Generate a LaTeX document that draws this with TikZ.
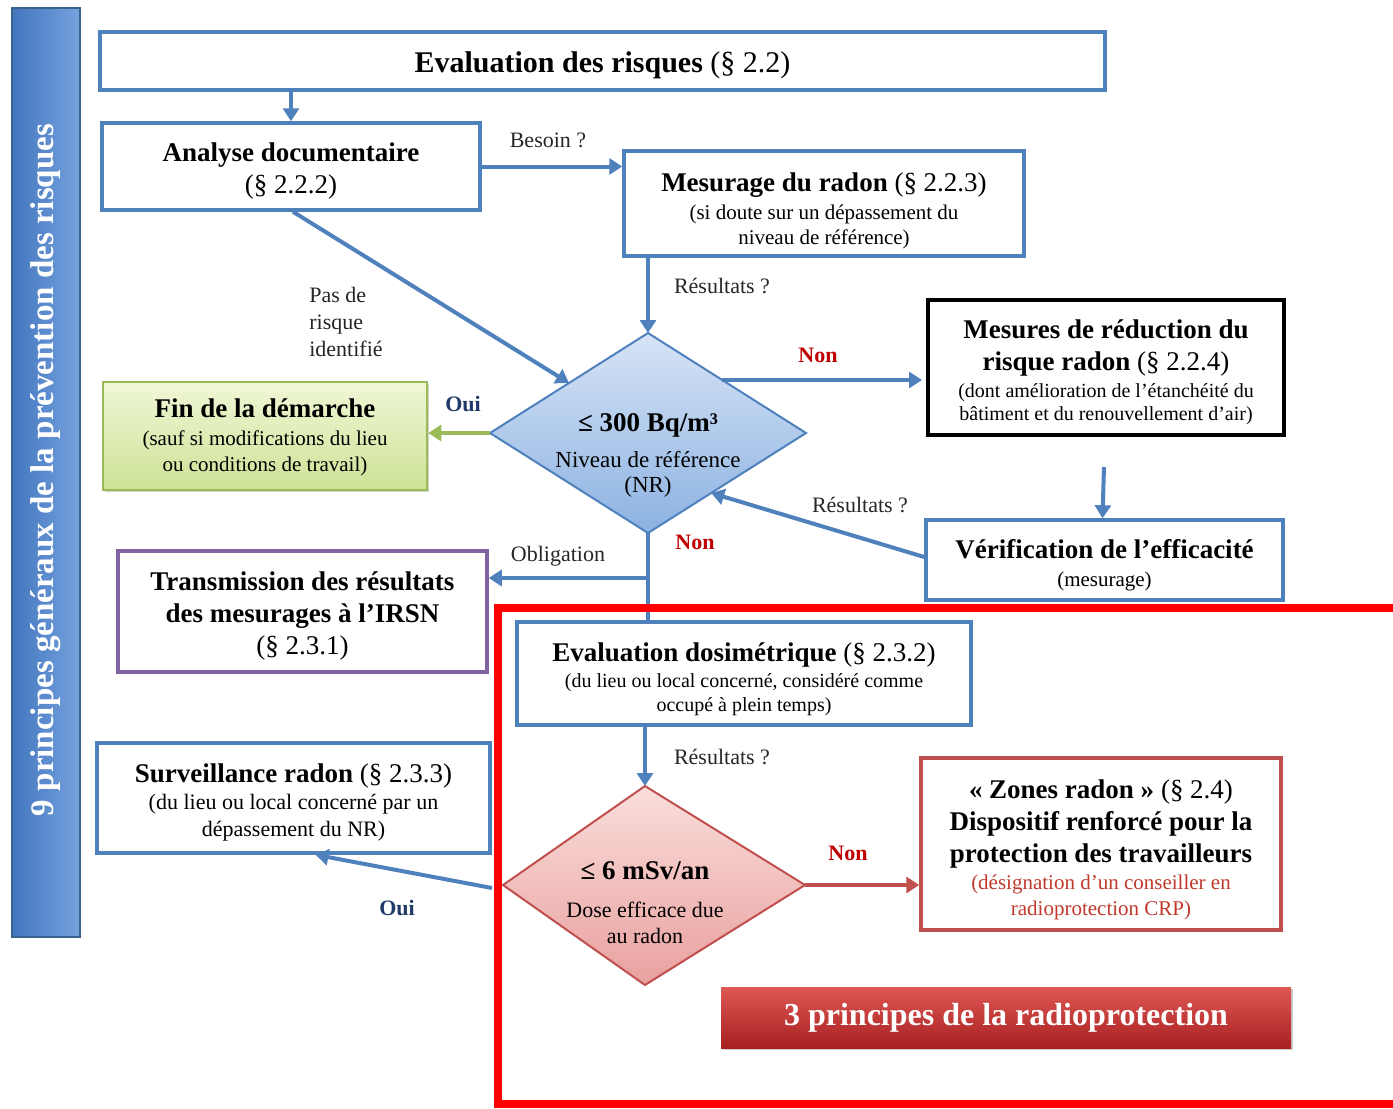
\documentclass[tikz,border=0pt]{standalone}
\usepackage{fontspec}
\setmainfont{Liberation Serif}
\usetikzlibrary{shadows,calc,arrows.meta}

\definecolor{bblue}{HTML}{4F81BD}
\definecolor{bred}{HTML}{C0504D}
\definecolor{bgreen}{HTML}{9BBB59}
\definecolor{bpurple}{HTML}{8064A2}
\definecolor{navyc}{HTML}{1F3A68}
\definecolor{lblred}{HTML}{C00000}
\definecolor{hired}{HTML}{FF0000}
\definecolor{txtred}{HTML}{C0392B}

\newcommand\szT{\fontsize{30}{34}\selectfont}
\newcommand\szA{\fontsize{27}{32}\selectfont}
\newcommand\szB{\fontsize{21}{25}\selectfont}
\newcommand\szL{\fontsize{22}{26}\selectfont}
\newcommand\szV{\fontsize{33}{36}\selectfont}
\newcommand\szP{\fontsize{32}{36}\selectfont}
\newcommand\dn[1]{\rule{0pt}{#1}}

\tikzset{
  box/.style={draw=bblue, line width=3.5pt, fill=white, inner sep=0pt, align=center, font=\szA},
  arr/.style={draw=bblue, line width=4pt, -{Triangle[length=13pt,width=16pt]}},
  garr/.style={draw=bgreen, line width=4pt, -{Triangle[length=13pt,width=16pt]}},
  rarr/.style={draw=bred, line width=4pt, -{Triangle[length=13pt,width=16pt]}},
  lab/.style={font=\szL, text=black!85, inner sep=0pt},
  nonlab/.style={font=\szL\bfseries, text=lblred, inner sep=0pt},
  ouilab/.style={font=\szL\bfseries, text=navyc, inner sep=0pt},
  diatext/.style={align=center, inner sep=0pt, font=\fontsize{23}{25}\selectfont},
}

\begin{document}
\begin{tikzpicture}[x=1pt,y=-1pt]
\useasboundingbox (0,0) rectangle (1393,1109);
\fill[white] (0,0) rectangle (1393,1109);

% left bar
\shade[left color={rgb,255:red,66;green,118;blue,190}, middle color={rgb,255:red,78;green,132;blue,204}, right color={rgb,255:red,118;green,162;blue,222}] (12,8) rectangle (80,937);
\draw[bblue!75!black, line width=1.5pt] (12,8) rectangle (80,937);
\node[rotate=90, text=white, font=\bfseries\szV] (vt) at (46,470) {9 principes généraux de la prévention des risques};

% boxes
\node[box, font=\szT, minimum width=1005pt, minimum height=58pt] (eval) at (602.5,61) {\dn{30pt}\textbf{Evaluation des risques} (§ 2.2)};
\node[box, minimum width=378pt, minimum height=87pt] (ana) at (291,166.5) {\dn{28pt}\textbf{Analyse documentaire}\\(§ 2.2.2)};
\node[box, minimum width=400pt, minimum height=105pt] (mes) at (824,203.5) {\dn{34pt}\textbf{Mesurage du radon} (§ 2.2.3)\\[-4pt]\szB (si doute sur un dépassement du\\[-7pt]\szB niveau de référence)};
\node[box, draw=black, line width=4pt, minimum width=356pt, minimum height=135pt] (red) at (1106,367.5) {\dn{28pt}\textbf{Mesures de réduction du}\\\textbf{risque radon} (§ 2.2.4)\\[-5pt]\fontsize{20}{23}\selectfont (dont amélioration de l’étanchéité du\\[-9pt]\fontsize{20}{23}\selectfont bâtiment et du renouvellement d’air)};
\node[box, minimum width=357pt, minimum height=80pt] (verif) at (1104.5,560) {\dn{30pt}\textbf{Vérification de l’efficacité}\\[-4pt]\szB (mesurage)};
\node[box, draw=bgreen, line width=2.5pt, fill=none, top color={rgb,255:red,240;green,247;blue,214}, bottom color={rgb,255:red,205;green,226;blue,150}, drop shadow={opacity=0.35}, minimum width=324pt, minimum height=108pt] (fin) at (265,436) {\dn{22pt}\textbf{Fin de la démarche}\\[-4pt]\szB (sauf si modifications du lieu\\[-6pt]\szB ou conditions de travail)};
\node[box, draw=bpurple, minimum width=369pt, minimum height=121pt] (trans) at (302.5,611.5) {\dn{28pt}\textbf{Transmission des résultats}\\\textbf{des mesurages à l’IRSN}\\(§ 2.3.1)};
\node[box, minimum width=454pt, minimum height=103pt] (dos) at (744,673.5) {\dn{30pt}\textbf{Evaluation dosimétrique} (§ 2.3.2)\\[-6pt]\fontsize{20}{24}\selectfont (du lieu ou local concerné, considéré comme\\[-8pt]\fontsize{20}{24}\selectfont occupé à plein temps)};
\node[box, minimum width=393pt, minimum height=110pt] (surv) at (293.5,798) {\dn{28pt}\textbf{Surveillance radon} (§ 2.3.3)\\[-5pt]\fontsize{22}{26}\selectfont (du lieu ou local concerné par un\\[-5pt]\fontsize{22}{26}\selectfont dépassement du NR)};
\node[box, draw=bred, minimum width=360pt, minimum height=172pt] (zones) at (1101,844) {\dn{30pt}\textbf{«~Zones radon~»} (§ 2.4)\\\textbf{Dispositif renforcé pour la}\\\textbf{protection des travailleurs}\\[-5pt]\szB\color{txtred}(désignation d’un conseiller en\\[-6pt]\szB\color{txtred}radioprotection CRP)};
\node[draw=none, top color={rgb,255:red,222;green,88;blue,84}, bottom color={rgb,255:red,168;green,32;blue,32}, drop shadow={opacity=0.4}, minimum width=570pt, minimum height=61pt, text=white, font=\bfseries\szP, inner sep=0pt] (trois) at (1006,1017.5) {3 principes de la radioprotection};

% diamond 1
\coordinate (d1t) at (648,333);
\coordinate (d1l) at (490,433);
\coordinate (d1r) at (806,433);
\coordinate (d1b) at (648,533);
\shade[top color={rgb,255:red,215;green,228;blue,246}, bottom color={rgb,255:red,140;green,178;blue,226}] (d1t) -- (d1r) -- (d1b) -- (d1l) -- cycle;
\draw[bblue, line width=2pt] (d1t) -- (d1r) -- (d1b) -- (d1l) -- cycle;
\node[diatext] (d1) at (648,455) {\szA\textbf{≤ 300 Bq/m³}\\[11pt]Niveau de référence\\(NR)};

% diamond 2
\coordinate (d2t) at (645,786);
\coordinate (d2l) at (503,885);
\coordinate (d2r) at (805,885);
\coordinate (d2b) at (645,985);
\shade[top color={rgb,255:red,250;green,222;blue,220}, bottom color={rgb,255:red,232;green,160;blue,158}] (d2t) -- (d2r) -- (d2b) -- (d2l) -- cycle;
\draw[bred, line width=2pt] (d2t) -- (d2r) -- (d2b) -- (d2l) -- cycle;
\node[diatext, font=\fontsize{22}{26}\selectfont] (d2) at (645,903) {\szA\textbf{≤ 6 mSv/an}\\[12pt]Dose efficace due\\au radon};

% connectors
\draw[arr] (ana.north |- eval.south) -- (ana.north);
\draw[arr] (ana.east) -- (ana.east -| mes.west);
\draw[arr] (d1t |- mes.south) -- (d1t);
\coordinate (d1ul) at ($(d1l)!0.5!(d1t)$);
\draw[arr] ($(ana.south)+(2,0)$) -- (d1ul);
\coordinate (d1ur) at ($(d1t)!0.47!(d1r)$);
\draw[arr] (d1ur) -- ($(d1ur -| red.west)+(-4,0)$);
\draw[arr] ($(red.south)+(-2,30)$) -- ($(verif.north)+(-2,0)$);
\coordinate (d1lr) at ($(d1r)!0.6!(d1b)$);
\draw[arr] ($(verif.west)+(0,-3)$) -- (d1lr);
\draw[garr] (d1l) -- (d1l -| fin.east);
\draw[bblue, line width=4pt] (d1b) -- (d1b |- dos.north);
\coordinate (br) at (648,578);
\draw[arr] (br) -- (br -| trans.east);
\draw[arr] (d2t |- dos.south) -- (d2t);
\draw[rarr] (d2r) -- (d2r -| zones.west);
\coordinate (d2lo) at (492,888);
\draw[arr] (d2lo) -- ($(surv.south)+(22,0)$);

% labels
\node[lab] (lbes) at (548,140) {Besoin ?};
\node[lab] (lres1) at (722,286) {Résultats ?};
\node[lab, align=left, font=\fontsize{22}{27}\selectfont] (lpas) at (346,322) {Pas de\\risque\\identifié};
\node[nonlab] (lnon1) at (818,355) {Non};
\node[ouilab] (loui1) at (463,404) {Oui};
\node[lab] (lres2) at (860,505) {Résultats ?};
\node[nonlab] (lnon2) at (695,542) {Non};
\node[lab] (lobl) at (558,556) {Obligation};
\node[lab] (lres3) at (722,757) {Résultats ?};
\node[nonlab] (lnon3) at (848,853) {Non};
\node[ouilab] (loui2) at (397,908) {Oui};

% red highlight frame
\draw[hired, line width=8pt] (1405,608) -- (498,608) -- (498,1104) -- (1405,1104);
\end{tikzpicture}
\end{document}
